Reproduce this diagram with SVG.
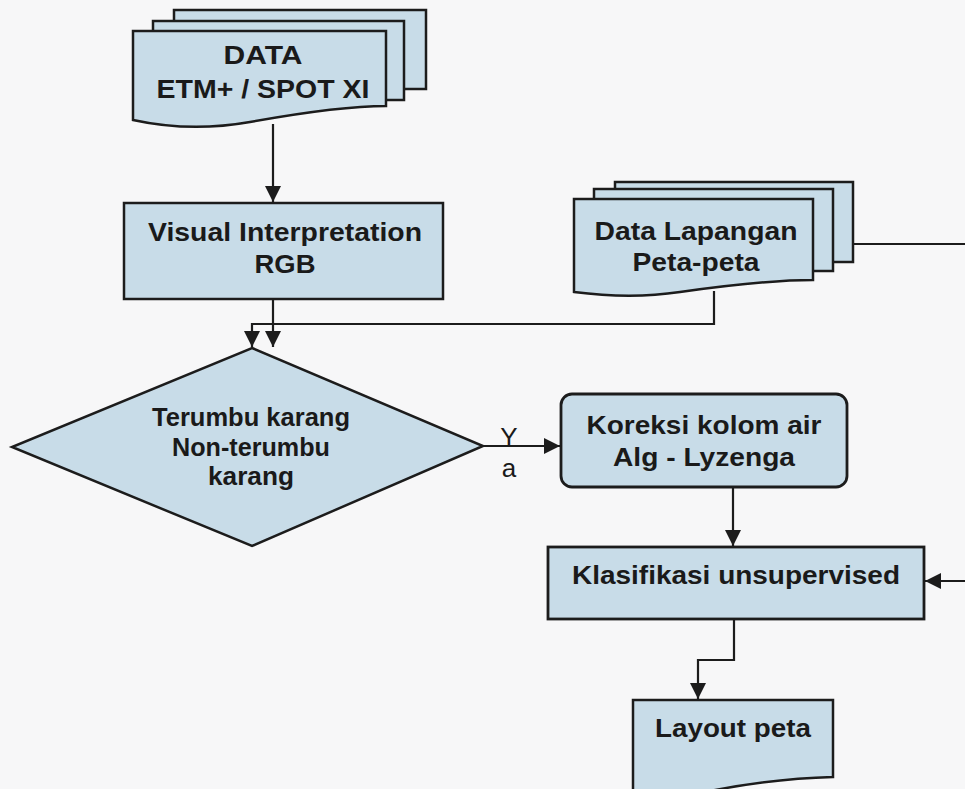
<svg xmlns="http://www.w3.org/2000/svg" width="965" height="789" viewBox="0 0 965 789">
  <style>
    .shape { fill: #c8dce8; stroke: #1c1c1c; stroke-width: 2.5; stroke-linejoin: miter; }
    .lbl { font-family: "Liberation Sans", Arial, sans-serif; font-weight: bold; font-size: 26px; fill: #1a1a1a; text-anchor: middle; }
    .edge { fill: none; stroke: #1c1c1c; stroke-width: 2.2; }
    .tag { font-family: "Liberation Sans", Arial, sans-serif; font-size: 26px; fill: #1a1a1a; text-anchor: middle; }
  </style>
  <defs>
    <marker id="arr" markerUnits="userSpaceOnUse" markerWidth="17" markerHeight="16" refX="16" refY="8" orient="auto">
      <path d="M0,0 L16,8 L0,16 Z" fill="#1c1c1c"/>
    </marker>
  </defs>
  <rect width="965" height="789" fill="#f7f7f8"/>

  <g id="connectors">
    <path class="edge" d="M273,124 V202" marker-end="url(#arr)"/>
    <path class="edge" d="M273,299 V347" marker-end="url(#arr)"/>
    <path class="edge" d="M714,291 V324 H252 V347" marker-end="url(#arr)"/>
    <path class="edge" d="M483,446 H560" marker-end="url(#arr)"/>
    <path class="edge" d="M733,487 V546" marker-end="url(#arr)"/>
    <path class="edge" d="M853,244 H1000 V581 H925" marker-end="url(#arr)"/>
    <path class="edge" d="M734,619 V660 H698 V699" marker-end="url(#arr)"/>
  </g>

  <g id="data-etm">
    <rect class="shape" x="174" y="10" width="252" height="79"/>
    <rect class="shape" x="153" y="21" width="251" height="79"/>
    <path class="shape" d="M133,31 H386 V106 C350,106 300,113 250,122 C205,130 165,127 133,120 Z"/>
    <text class="lbl" x="263" y="64" textLength="79" lengthAdjust="spacingAndGlyphs">DATA</text>
    <text class="lbl" x="263" y="98" textLength="213" lengthAdjust="spacingAndGlyphs">ETM+ / SPOT XI</text>
  </g>

  <g id="visual">
    <rect class="shape" x="124" y="203" width="319" height="96"/>
    <text class="lbl" x="285" y="241" textLength="274" lengthAdjust="spacingAndGlyphs">Visual Interpretation</text>
    <text class="lbl" x="285" y="273" textLength="61" lengthAdjust="spacingAndGlyphs">RGB</text>
  </g>

  <g id="data-lapangan">
    <rect class="shape" x="615" y="182" width="238" height="80"/>
    <rect class="shape" x="594" y="189" width="239" height="82"/>
    <path class="shape" d="M574,199 H813 V280 C780,280 730,285 680,292 C640,298 605,296 574,292 Z"/>
    <text class="lbl" x="696" y="240" textLength="203" lengthAdjust="spacingAndGlyphs">Data Lapangan</text>
    <text class="lbl" x="696" y="271" textLength="127" lengthAdjust="spacingAndGlyphs">Peta-peta</text>
  </g>

  <g id="decision">
    <path class="shape" d="M252,348 L483,446 L252,546 L12,447 Z"/>
    <text class="lbl" x="251" y="426" textLength="198" lengthAdjust="spacingAndGlyphs">Terumbu karang</text>
    <text class="lbl" x="251" y="456" textLength="158" lengthAdjust="spacingAndGlyphs">Non-terumbu</text>
    <text class="lbl" x="251" y="485" textLength="86" lengthAdjust="spacingAndGlyphs">karang</text>
  </g>

  <g id="edge-labels">
    <text class="tag" x="509" y="446">Y</text>
    <text class="tag" x="509" y="477">a</text>
  </g>

  <g id="koreksi">
    <rect class="shape" x="561" y="394" width="286" height="93" rx="11" ry="11" style="stroke-width:2.8"/>
    <text class="lbl" x="704" y="434" textLength="235" lengthAdjust="spacingAndGlyphs">Koreksi kolom air</text>
    <text class="lbl" x="704" y="466" textLength="182" lengthAdjust="spacingAndGlyphs">Alg - Lyzenga</text>
  </g>

  <g id="klasifikasi">
    <rect class="shape" x="548" y="547" width="376" height="72" style="stroke-width:2.8"/>
    <text class="lbl" x="736" y="584" textLength="328" lengthAdjust="spacingAndGlyphs">Klasifikasi unsupervised</text>
  </g>

  <g id="layout">
    <path class="shape" d="M633,700 H833 V777 C790,778 745,784 705,792 C680,797 655,797 633,795 Z"/>
    <text class="lbl" x="733" y="737" textLength="156" lengthAdjust="spacingAndGlyphs">Layout peta</text>
  </g>
</svg>
